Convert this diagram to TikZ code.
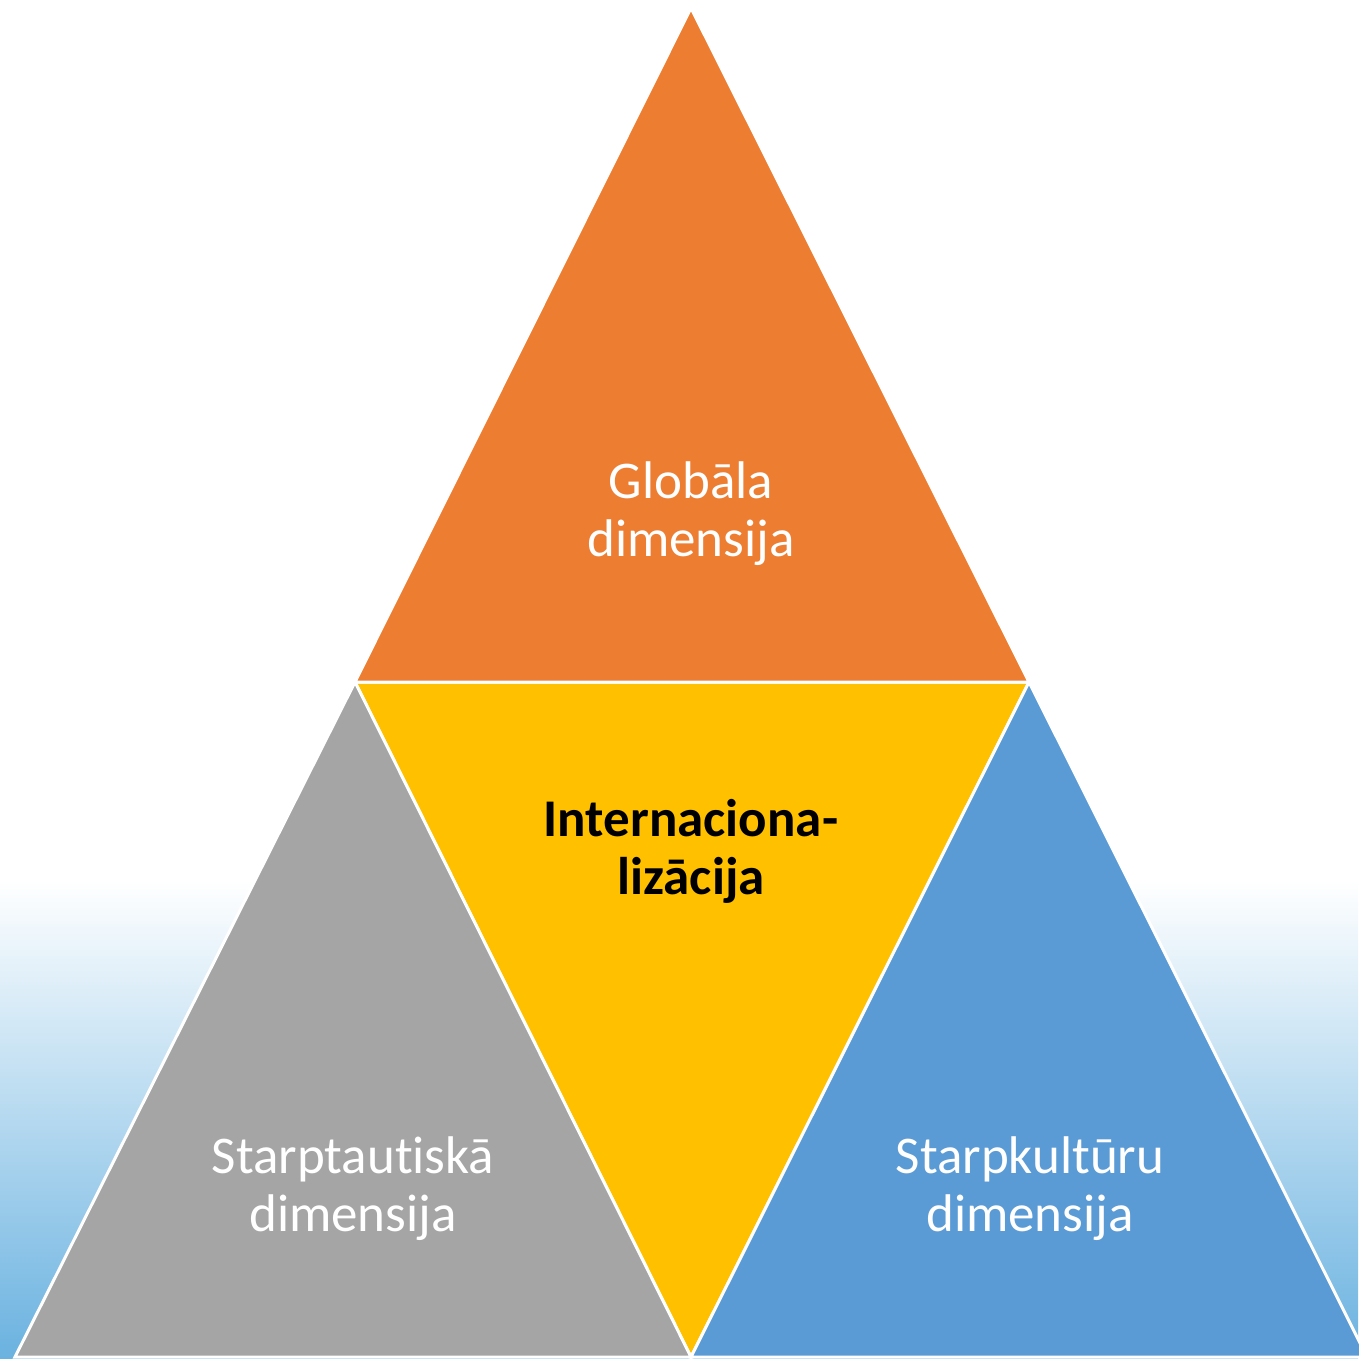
\documentclass[tikz,border=0pt]{standalone}
\usepackage{fontspec}
\setmainfont[Ligatures=NoCommon]{Carlito}
\usetikzlibrary{positioning}
\definecolor{orange(accent)}{HTML}{ED7D31}
\definecolor{gold(accent)}{HTML}{FFC000}
\definecolor{gray(accent)}{HTML}{A5A5A5}
\definecolor{blue(accent)}{HTML}{5B9BD5}
\definecolor{sky(ground)}{RGB}{106,178,224}
\tikzset {
        tripart/.style={draw=white, line width=3pt, line join=miter},
        dimlabel/.style={align=center, inner sep=0pt, text=white, font=\fontsize{53}{58}\selectfont},
        corelabel/.style={dimlabel, text=black, font=\fontsize{53}{58}\selectfont\bfseries}
}
\begin{document}
\begin{tikzpicture}[x=1pt, y=-1pt]
            \useasboundingbox (0,0) rectangle (1358,1359);
            \fill[top color=white, bottom color=sky(ground)] (0,880) rectangle (1358,1359);

            \coordinate (Apex) at (691,8);
            \coordinate (MidLeft) at (355,682);
            \coordinate (MidRight) at (1029,682);
            \coordinate (BaseLeft) at (15,1357);
            \coordinate (BaseMid) at (691,1357);
            \coordinate (BaseRight) at (1367,1357);

            % the four parts
            \filldraw[tripart, fill=gold(accent)] (MidLeft) -- (MidRight) -- (BaseMid) -- cycle;
            \filldraw[tripart, fill=gray(accent)] (MidLeft) -- (BaseMid) -- (BaseLeft) -- cycle;
            \filldraw[tripart, fill=blue(accent)] (MidRight) -- (BaseRight) -- (BaseMid) -- cycle;
            \filldraw[tripart, fill=orange(accent)] (Apex) -- (MidRight) -- (MidLeft) -- cycle;

            \node[dimlabel] (Global) at (691,514) {
                Globāla\\dimensija
            };
            \node[corelabel] (Internal) at (691,851) {
                Internaciona-\\lizācija
            };
            \node[dimlabel] (International) at (353,1189) {
                Starptautiskā\\dimensija
            };
            \node[dimlabel] (Intercultural) at (1030,1189) {
                Starpkultūru\\dimensija
            };
        \end{tikzpicture}
\end{document}
